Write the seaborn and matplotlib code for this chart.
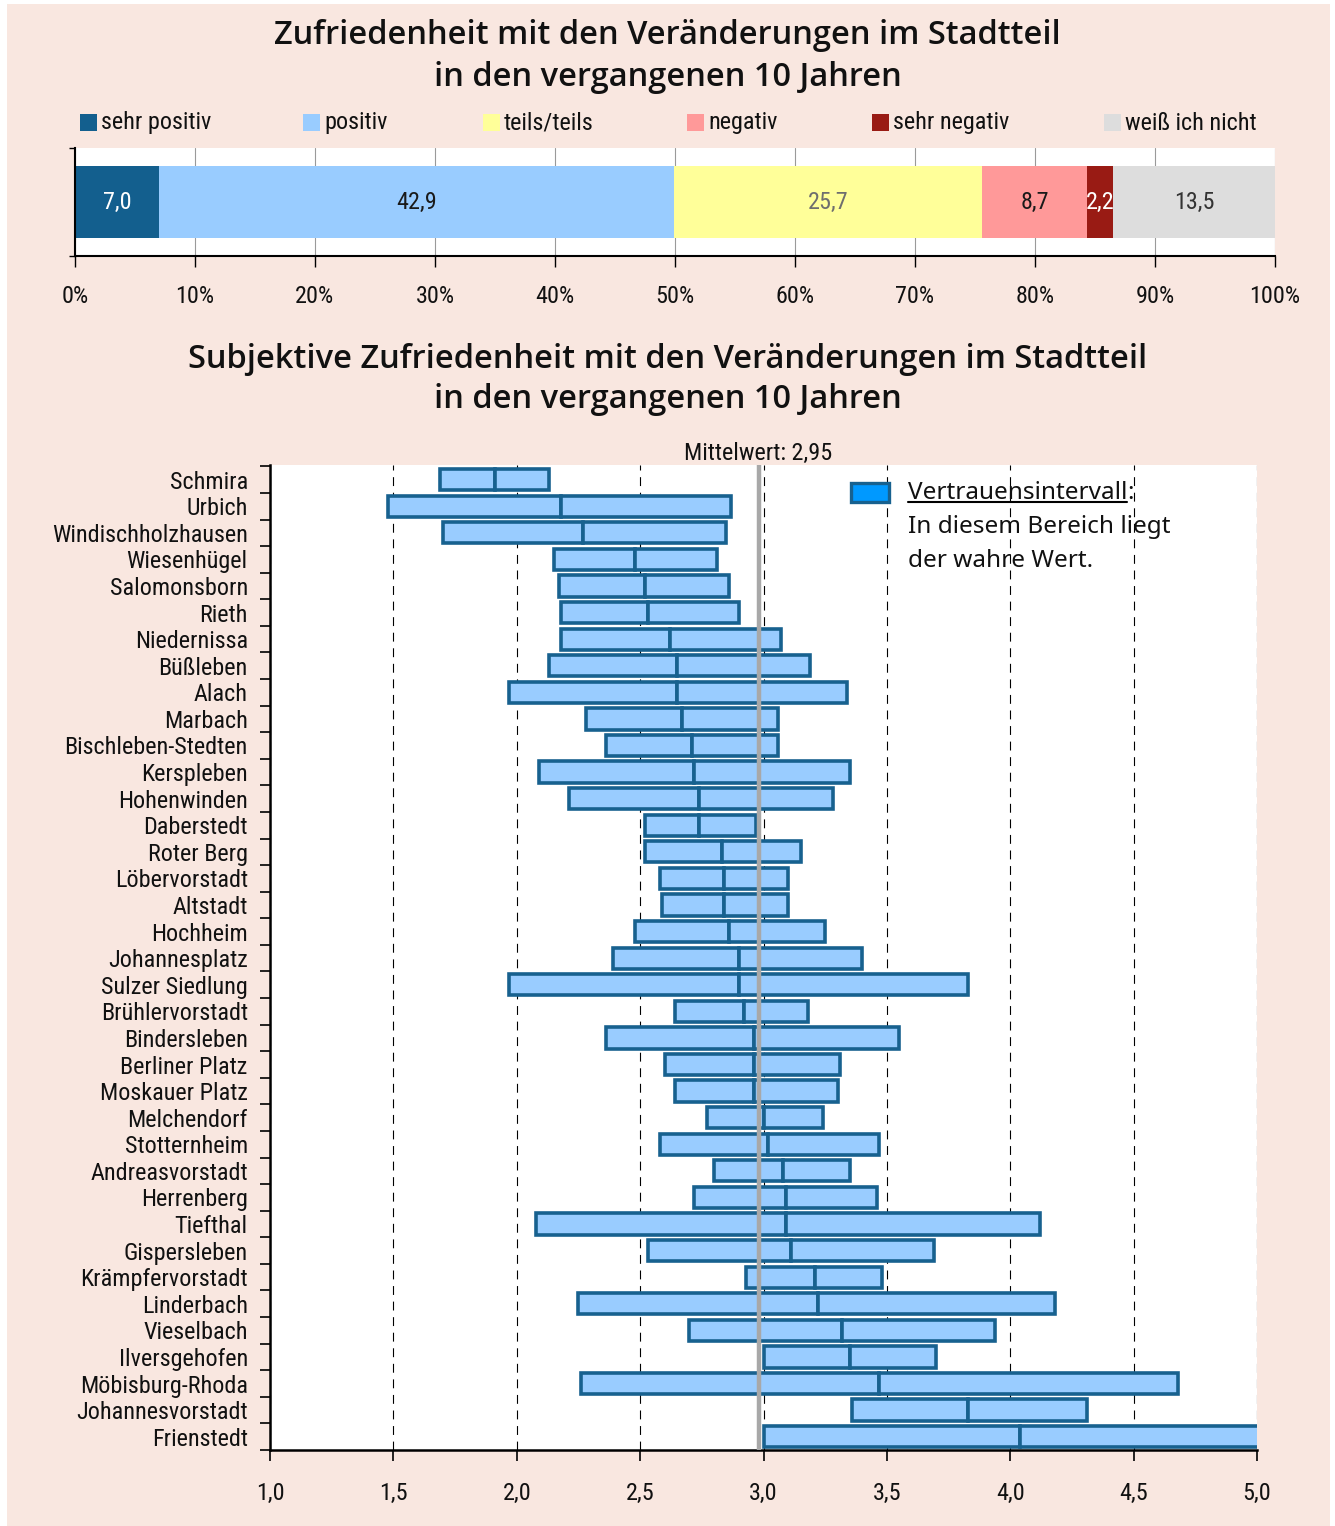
#1.imports
import numpy as np
import pandas as pd
import matplotlib.pyplot as plt
from matplotlib import font_manager as fm
from matplotlib.patches import Rectangle
from matplotlib.lines import Line2D
from matplotlib.ticker import FixedLocator
import seaborn as sns

sns.set_theme(style="white")

#pick a narrow font if there is one
avail = {f.name for f in fm.fontManager.ttflist}
NARROW, STRETCH = None, "normal"
for cand in ["Liberation Sans Narrow", "DejaVu Sans Condensed", "Roboto Condensed",
             "Noto Sans Condensed", "Open Sans Condensed"]:
    if cand in avail:
        NARROW = cand
        break
if NARROW is None:
    if any(f.name == "DejaVu Sans" and f.stretch == "condensed" for f in fm.fontManager.ttflist):
        NARROW, STRETCH = "DejaVu Sans", "condensed"
    elif "Roboto" in avail:
        NARROW = "Roboto"
    else:
        NARROW = "DejaVu Sans"
plt.rcParams["font.family"] = [NARROW, "DejaVu Sans"]
plt.rcParams["font.stretch"] = STRETCH

#2.data - top chart (shares in %)
kategorien = ["sehr positiv", "positiv", "teils/teils", "negativ", "sehr negativ", "weiß ich nicht"]
anteile = [7.0, 42.9, 25.7, 8.7, 2.2, 13.5]
farben = ["#135F8E", "#99CCFF", "#FFFF99", "#FF9999", "#991B14", "#DDDDDD"]
textfarben = ["white", "#1a1a1a", "#6e6e6e", "#1a1a1a", "white", "#333333"]
prozent_ticks = [0, 10, 20, 30, 40, 50, 60, 70, 80, 90, 100]

#data - bottom chart (confidence intervals per district)
stadtteile = ["Schmira", "Urbich", "Windischholzhausen", "Wiesenhügel", "Salomonsborn",
              "Rieth", "Niedernissa", "Büßleben", "Alach", "Marbach", "Bischleben-Stedten",
              "Kerspleben", "Hohenwinden", "Daberstedt", "Roter Berg", "Löbervorstadt",
              "Altstadt", "Hochheim", "Johannesplatz", "Sulzer Siedlung", "Brühlervorstadt",
              "Bindersleben", "Berliner Platz", "Moskauer Platz", "Melchendorf", "Stotternheim",
              "Andreasvorstadt", "Herrenberg", "Tiefthal", "Gispersleben", "Krämpfervorstadt",
              "Linderbach", "Vieselbach", "Ilversgehofen", "Möbisburg-Rhoda",
              "Johannesvorstadt", "Frienstedt"]
ci_unten = [1.69, 1.48, 1.70, 2.15, 2.17, 2.18, 2.18, 2.13, 1.97, 2.28, 2.36, 2.09, 2.21,
            2.52, 2.52, 2.58, 2.59, 2.48, 2.39, 1.97, 2.64, 2.36, 2.60, 2.64, 2.77, 2.58,
            2.80, 2.72, 2.08, 2.53, 2.93, 2.25, 2.70, 3.00, 2.26, 3.36, 3.00]
ci_mitte = [1.91, 2.18, 2.27, 2.48, 2.52, 2.53, 2.62, 2.65, 2.65, 2.67, 2.71, 2.72, 2.74,
            2.74, 2.83, 2.84, 2.84, 2.86, 2.90, 2.90, 2.92, 2.96, 2.96, 2.96, 3.00, 3.02,
            3.08, 3.09, 3.09, 3.11, 3.21, 3.22, 3.32, 3.35, 3.47, 3.83, 4.04]
ci_oben = [2.13, 2.87, 2.85, 2.81, 2.86, 2.90, 3.07, 3.19, 3.34, 3.06, 3.06, 3.35, 3.28,
           2.97, 3.15, 3.10, 3.10, 3.25, 3.40, 3.83, 3.18, 3.55, 3.31, 3.30, 3.24, 3.47,
           3.35, 3.46, 4.12, 3.69, 3.48, 4.18, 3.94, 3.70, 4.68, 4.31, 5.08]
mittelwert_text = "2,95"
mittelwert_linie = 2.98
skala_ticks = [1.0, 1.5, 2.0, 2.5, 3.0, 3.5, 4.0, 4.5, 5.0]

df = pd.DataFrame({"Stadtteil": stadtteile, "unten": ci_unten,
                   "mitte": ci_mitte, "oben": ci_oben})
df["links"] = df["mitte"] - df["unten"]
df["rechts"] = df["oben"] - df["mitte"]

#3.figure
W, H = 1335, 1526
PEACH = "#F9E7E0"
fig = plt.figure(figsize=(W / 100, H / 100), dpi=100, facecolor="white")
fig.patches.append(Rectangle((7 / W, 0), (1330 - 7) / W, 1 - 4 / H,
                             transform=fig.transFigure, facecolor=PEACH,
                             edgecolor="none", zorder=-10))

#scale the narrow font so that the longest district name is as wide as in the original
probe = fig.text(0, 0, "Windischholzhausen", fontsize=17)
fig.canvas.draw()
k = min(1.1, 196 / probe.get_window_extent(fig.canvas.get_renderer()).width)
probe.remove()
fs_tick = 17 * k
fs_leg = 17 * k

title_kw = dict(ha="center", va="center", fontsize=23.5, family=["Open Sans", "DejaVu Sans"],
                stretch="normal", weight="semibold", color="#111111")
fig.text(0.5, 1 - 35 / H, "Zufriedenheit mit den Veränderungen im Stadtteil", **title_kw)
fig.text(0.5, 1 - 77 / H, "in den vergangenen 10 Jahren", **title_kw)
fig.text(0.5, 1 - 360 / H, "Subjektive Zufriedenheit mit den Veränderungen im Stadtteil", **title_kw)
fig.text(0.5, 1 - 400 / H, "in den vergangenen 10 Jahren", **title_kw)

#a.top stacked bar
ax1 = fig.add_axes([75 / W, 1 - 256 / H, 1200 / W, 108 / H])
ax1.set_facecolor("white")
starts = np.cumsum([0] + anteile[:-1])
ax1.barh(0, anteile, left=starts, height=0.667, color=farben, edgecolor="none")
for s, v, tc in zip(starts, anteile, textfarben):
    ax1.text(s + v / 2, 0, f"{v:.1f}".replace(".", ","), ha="center", va="center",
             fontsize=fs_tick, color=tc)
ax1.set_xlim(0, 100)
ax1.set_ylim(-0.5, 0.5)
ax1.set_xticks(prozent_ticks)
ax1.set_xticklabels([f"{t}%" for t in prozent_ticks])
ax1.set_yticks([-0.5, 0.5])
ax1.set_yticklabels([])
ax1.grid(axis="x", color="#9a9a9a", lw=0.8)
ax1.set_axisbelow(True)
for side in ["top", "right"]:
    ax1.spines[side].set_visible(False)
for side in ["left", "bottom"]:
    ax1.spines[side].set_color("black")
    ax1.spines[side].set_linewidth(1.5)
ax1.tick_params(axis="x", bottom=True, length=8, width=1, color="black", pad=13,
                labelsize=fs_tick, labelcolor="#111111")
ax1.tick_params(axis="y", left=True, length=4, width=1, color="black")

#legend row above the bar (square + label at the original column positions)
leg_x = [80, 303, 483, 687, 872, 1104]
for xp, k_name, c in zip(leg_x, kategorien, farben):
    fig.patches.append(Rectangle((xp / W, 1 - 131 / H), 17 / W, 17 / H,
                                 transform=fig.transFigure, facecolor=c, edgecolor="none"))
    fig.text((xp + 21) / W, 1 - 123 / H, k_name, ha="left", va="center",
             fontsize=fs_leg, color="#111111")

#b.bottom confidence intervals
ax2 = fig.add_axes([270 / W, 1 - 1450 / H, 987 / W, 985 / H])
ax2.set_facecolor("white")
box_kw = dict(y="Stadtteil", orient="y", color="#99CCFF", saturation=1, width=0.8,
              edgecolor="#17618F", linewidth=2.6, errorbar=None, ax=ax2, zorder=3)
sns.barplot(data=df, x="links", left=df["unten"].to_numpy(), **box_kw)
sns.barplot(data=df, x="rechts", left=df["mitte"].to_numpy(), **box_kw)

ax2.set_xlim(1, 5)
ax2.set_ylim(len(stadtteile) - 0.5, -0.55)
ax2.set_xlabel("")
ax2.set_ylabel("")
ax2.set_xticks(skala_ticks)
ax2.set_xticklabels([f"{t:.1f}".replace(".", ",") for t in skala_ticks])
ax2.set_yticks(range(len(stadtteile)))
ax2.set_yticklabels(stadtteile)
ax2.yaxis.set_minor_locator(FixedLocator(np.arange(-0.5, len(stadtteile), 1)))
ax2.xaxis.grid(True, color="black", lw=0.8, ls=(0, (8, 6)))
ax2.set_axisbelow(True)
for side in ["top", "right"]:
    ax2.spines[side].set_visible(False)
for side in ["left", "bottom"]:
    ax2.spines[side].set_color("black")
    ax2.spines[side].set_linewidth(1.8)
ax2.tick_params(axis="y", which="major", left=False, length=0, pad=16, labelsize=fs_tick,
                labelcolor="#111111")
ax2.tick_params(axis="y", which="minor", left=True, length=7, width=1.2, color="black")
ax2.tick_params(axis="x", bottom=True, length=8, width=1.2, color="black", pad=15,
                labelsize=fs_tick, labelcolor="#111111")

ax2.axvline(mittelwert_linie, color="#A8A8A8", lw=3.2, zorder=6)
ax2.annotate(f"Mittelwert: {mittelwert_text}", xy=(mittelwert_linie, 1), xycoords=("data", "axes fraction"),
             xytext=(0, 12), textcoords="offset pixels", ha="center", va="center",
             fontsize=fs_tick, color="#111111")

#legend for the interval boxes
ax2.add_patch(Rectangle(((851 - 270) / 987, (1450 - 502) / 985), 38 / 987, 19 / 985,
                        transform=ax2.transAxes, facecolor="#0099FF", edgecolor="#17618F",
                        lw=2.4, zorder=7, clip_on=False))
leg_kw = dict(transform=ax2.transAxes, ha="left", va="center", fontsize=17.5,
              family=["Noto Sans", "DejaVu Sans"], stretch="normal", color="#111111", zorder=7)
x_leg = (908 - 270) / 987
t_word = ax2.text(x_leg, (1450 - 493) / 985, "Vertrauensintervall", **leg_kw)
ax2.annotate(":", xy=(1, 0.5), xycoords=t_word, ha="left", va="center", fontsize=17.5,
             family=["Noto Sans", "DejaVu Sans"], stretch="normal", color="#111111")
ax2.text(x_leg, (1450 - 527) / 985, "In diesem Bereich liegt", **leg_kw)
ax2.text(x_leg, (1450 - 561) / 985, "der wahre Wert.", **leg_kw)

fig.canvas.draw()
bb = t_word.get_window_extent(fig.canvas.get_renderer())
y_line = bb.y0 + 0.14 * bb.height
fig.add_artist(Line2D([bb.x0 / W, bb.x1 / W], [y_line / H, y_line / H],
                      transform=fig.transFigure, color="black", lw=1.5))

plt.savefig("out.png", dpi=100, facecolor=fig.get_facecolor())
